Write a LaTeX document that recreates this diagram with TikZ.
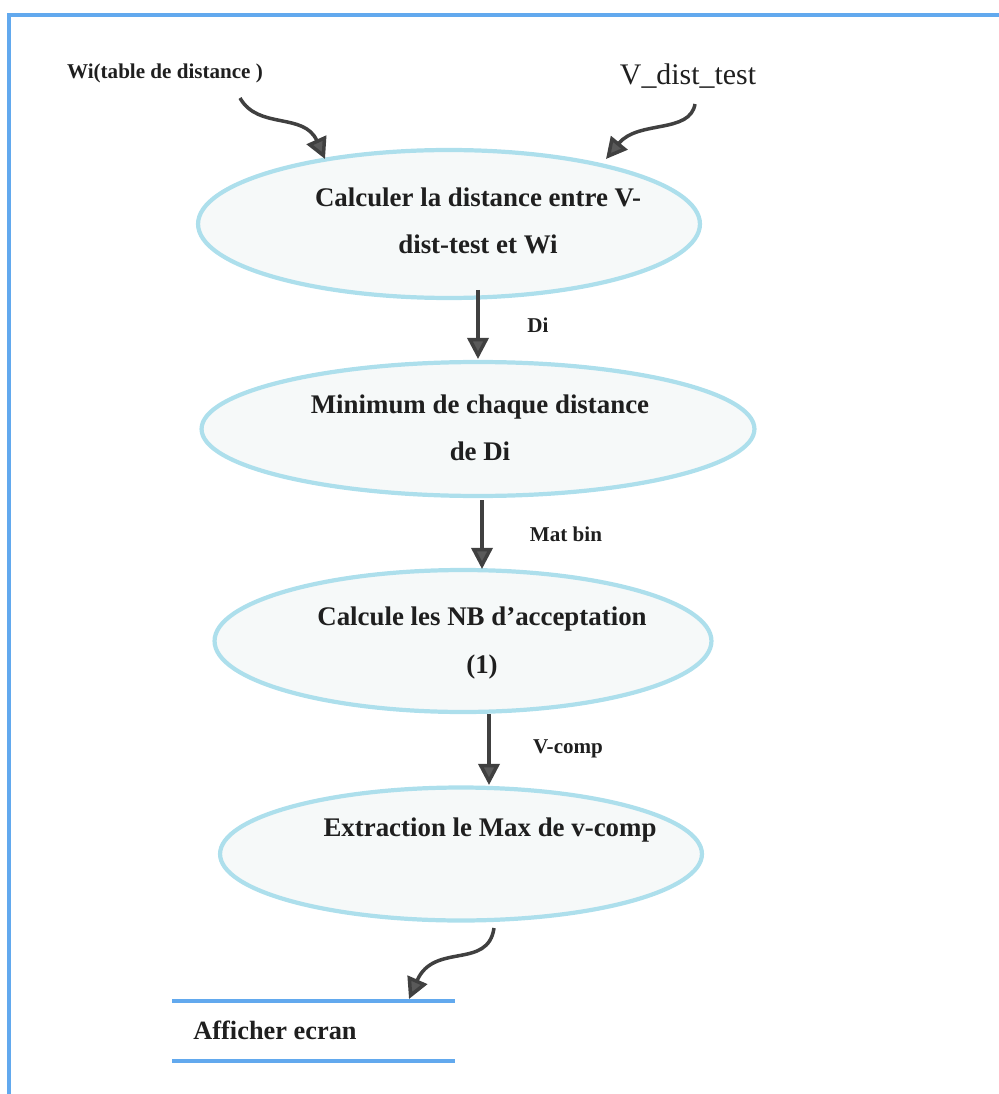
\documentclass[tikz,border=0pt]{standalone}
\usepackage{fontspec}
\setmainfont{Liberation Serif}
\usetikzlibrary{shapes.geometric,arrows.meta}
\definecolor{framec}{HTML}{62A9EE}
\definecolor{ellborder}{HTML}{ADDFEC}
\definecolor{ellfill}{HTML}{F6F9F9}
\definecolor{arrowc}{HTML}{404040}
\definecolor{tipc}{HTML}{5A5A5A}
\tikzset{
  stage/.style={ellipse, draw=ellborder, fill=ellfill, line width=2.4pt,
    inner sep=0pt},
  stagetext/.style={font=\bfseries\fontsize{15.3}{27}\selectfont, text=black!88,
    align=center},
  flow/.style={draw=arrowc, line width=2pt,
    -{Triangle[width=12pt,length=12pt,fill=tipc]}},
  lbl/.style={font=\bfseries\fontsize{12}{14}\selectfont, text=black!88},
  rule/.style={draw=framec, line width=1.8pt}
}
\begin{document}
\begin{tikzpicture}[x=0.02cm,y=-0.02cm]
  \useasboundingbox (0,0) rectangle (999,1094);
  % outer frame (top and left edges)
  \draw[rule] (9,1094) -- (9,15) -- (999,15);

  % inputs
  \node[font=\bfseries\fontsize{12}{14}\selectfont, text=black!88] (wi) at (165,73) {Wi(table de distance )};
  \node[font=\fontsize{17}{20}\selectfont, text=black!88] (vt) at (688,76) {V\_dist\_test};
  \coordinate (wis) at (240,98);
  \coordinate (vts) at (695,104);

  % processing stages
  \node[stage, minimum width=10.04cm, minimum height=2.96cm] (e1) at (449,224) {};
  \node[stagetext] (t1) at (478,221) {Calculer la distance entre V-\\dist-test et Wi};
  \node[stage, minimum width=11.06cm, minimum height=2.68cm] (e2) at (478,429) {};
  \node[stagetext] (t2) at (480,428) {Minimum de chaque distance\\de Di};
  \node[stage, minimum width=9.94cm, minimum height=2.84cm] (e3) at (463,641) {};
  \node[stagetext] (t3) at (482,643) {Calcule les NB d'acceptation\\(1)};
  \node[stage, minimum width=9.64cm, minimum height=2.66cm] (e4) at (461,854) {};
  \node[stagetext] (t4) at (490,830) {Extraction le Max de v-comp};

  % output
  \draw[rule] (172,1001) -- (455,1001);
  \draw[rule] (172,1061) -- (455,1061);
  \node[font=\bfseries\fontsize{15}{18}\selectfont, text=black!88] (out) at (275,1030) {Afficher ecran};
  \coordinate (outtop) at (409,999);
  \coordinate (e4s) at (494,928);

  % connectors
  \draw[flow] (wis) .. controls (258,130) and (304,112) .. (325,159);
  \draw[flow] (vts) .. controls (690,134) and (638,120) .. (606,159);
  \draw[flow] (478,290) -- (478,359);
  \draw[flow] (482,500) -- (482,569);
  \draw[flow] (489,714) -- (489,785);
  \draw[flow] (e4s) .. controls (488,970) and (434,942) .. (outtop);

  % connector labels
  \node[lbl] (l1) at (538,325) {Di};
  \node[lbl] (l2) at (566,534) {Mat bin};
  \node[lbl] (l3) at (568,749) {V-comp};
\end{tikzpicture}
\end{document}
